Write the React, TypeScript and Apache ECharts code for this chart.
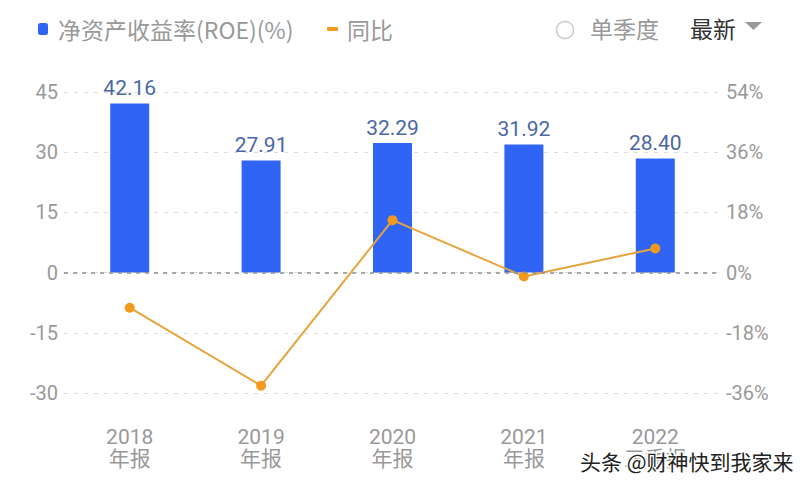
import React, { useEffect, useRef } from "react";
import * as echarts from "echarts";

const years = ["2018", "2019", "2020", "2021", "2022"];
const reportTypes = ["年报", "年报", "年报", "年报", "三季报"];
const roeValues = [42.16, 27.91, 32.29, 31.92, 28.4];
const yoyValues = [-10.5, -33.8, 15.69, -1.15, 7.2];
const roeName = "净资产收益率(ROE)(%)";
const yoyName = "同比";

const FONT = "Roboto, 'Noto Sans CJK SC', 'Noto Sans', sans-serif";
const CJK = "'Noto Sans CJK SC', Roboto, sans-serif";

export default function App() {
  const ref = useRef<HTMLDivElement>(null);

  useEffect(() => {
    document.body.style.margin = "0";
    if (!ref.current) return;
    const chart = echarts.init(ref.current, undefined, { renderer: "svg" });
    const categories = years.map((y, i) => `${y}\n${reportTypes[i]}`);
    chart.setOption({
      animation: false,
      backgroundColor: "#ffffff",
      textStyle: { fontFamily: FONT },
      legend: [
        {
          data: [{ name: roeName, icon: "roundRect" }],
          left: 33,
          top: 12,
          itemWidth: 10,
          itemHeight: 12,
          selectedMode: false,
          textStyle: { color: "#999999", fontSize: 23, fontFamily: CJK, padding: [0, 0, 0, 5], lineHeight: 24 },
        },
        {
          data: [{ name: yoyName, icon: "roundRect" }],
          left: 322,
          top: 12,
          itemWidth: 11,
          itemHeight: 4,
          selectedMode: false,
          textStyle: { color: "#999999", fontSize: 23, fontFamily: CJK, padding: [0, 0, 0, 4], lineHeight: 24 },
        },
      ],
      grid: { left: 64, right: 79, top: 92, bottom: 94 },
      xAxis: {
        type: "category",
        data: categories,
        axisLine: { show: false, onZero: false },
        axisTick: { show: false },
        axisLabel: {
          color: "#999999",
          fontSize: 21,
          lineHeight: 22,
          margin: 33,
          fontFamily: FONT,
        },
      },
      yAxis: [
        {
          type: "value",
          min: -30,
          max: 45,
          interval: 15,
          axisLine: { show: false },
          axisTick: { show: false },
          axisLabel: { color: "#999999", fontSize: 20, margin: 6 },
          splitLine: { lineStyle: { type: [4, 6], color: "#dddddd", width: 1 } },
        },
        {
          type: "value",
          min: -36,
          max: 54,
          interval: 18,
          axisLine: { show: false },
          axisTick: { show: false },
          axisLabel: { color: "#999999", fontSize: 20, margin: 5, formatter: "{value}%" },
          splitLine: { show: false },
        },
      ],
      series: [
        {
          name: roeName,
          type: "bar",
          data: roeValues,
          barWidth: 39,
          itemStyle: { color: "#3064F4" },
          label: {
            show: true,
            position: "top",
            distance: 5,
            color: "#4A67A6",
            fontSize: 21,
            formatter: (p: any) => Number(p.value).toFixed(2),
          },
          markLine: {
            silent: true,
            symbol: "none",
            label: { show: false },
            lineStyle: { type: [4, 5], color: "#8f8f8f", width: 1.5 },
            data: [{ yAxis: 0 }],
          },
          z: 2,
        },
        {
          name: yoyName,
          type: "line",
          yAxisIndex: 1,
          data: yoyValues,
          symbol: "circle",
          symbolSize: 10,
          lineStyle: { color: "#E6A43C", width: 2 },
          itemStyle: { color: "#F39A1E" },
          z: 3,
        },
      ],
      graphic: [
        { type: "circle", shape: { cx: 565, cy: 30, r: 8.5 }, style: { fill: "#fff", stroke: "#cccccc", lineWidth: 1.5 } },
        { type: "text", x: 590, y: 28, style: { text: "单季度", fill: "#999999", fontSize: 23, fontFamily: CJK, verticalAlign: "middle" } },
        { type: "text", x: 690, y: 28, style: { text: "最新", fill: "#333333", fontSize: 23, fontFamily: CJK, verticalAlign: "middle" } },
        { type: "polygon", shape: { points: [[745, 22], [762, 22], [753.5, 30]] }, style: { fill: "#999999" } },
        {
          type: "text",
          x: 580,
          y: 461,
          z: 100,
          style: {
            text: "头条 @财神快到我家来",
            fill: "#222222",
            stroke: "#ffffff",
            lineWidth: 3,
            fontSize: 21,
            fontFamily: CJK,
            verticalAlign: "middle",
          },
        },
      ],
    });
    return () => chart.dispose();
  }, []);

  return <div ref={ref} style={{ width: 800, height: 487 }} />;
}
